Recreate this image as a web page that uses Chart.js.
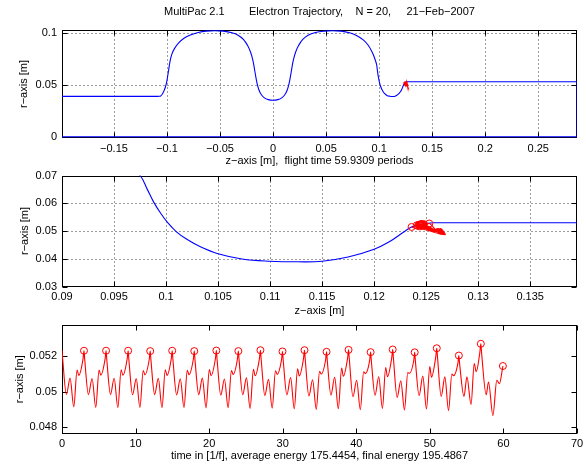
<!DOCTYPE html>
<html><head><meta charset="utf-8">
<script src="https://cdn.jsdelivr.net/npm/chart.js@4.4.1/dist/chart.umd.min.js"></script>
<style>
html,body{margin:0;padding:0;background:#fff;}
#wrap{position:relative;width:586px;height:468px;overflow:hidden;background:#fff;}
canvas{position:absolute;left:0;}
</style></head><body>
<div id="wrap">
<canvas id="c1" width="586" height="170" style="top:0px"></canvas>
<canvas id="c2" width="586" height="150" style="top:170px"></canvas>
<canvas id="c3" width="586" height="148" style="top:320px"></canvas>
</div>
<script>
// ---------- cavity geometry (z, r) ----------
const cavityZ = [-0.1077,-0.1060,-0.1045,-0.1030,-0.1015,-0.1003,-0.0993,-0.0983,-0.0971,-0.0955,-0.0930,-0.0890,-0.0840,-0.0780,-0.0706,-0.0630,-0.0550,-0.0470,-0.0388,-0.0330,-0.0280,-0.0240,-0.0212,-0.0192,-0.0178,-0.0165,-0.0152,-0.0136,-0.0115,-0.0085,-0.0045,0.0000,0.0045,0.0085,0.0115,0.0136,0.0152,0.0165,0.0178,0.0192,0.0212,0.0240,0.0280,0.0330,0.0400,0.0480,0.0560,0.0640,0.0720,0.0790,0.0850,0.0895,0.0930,0.0955,0.0975,0.0982,0.0988,0.0995,0.1002,0.1010,0.1020,0.1033,0.1050,0.1073,0.1100,0.1127,0.1150,0.1175,0.1200,0.1215,0.1226,0.1236,0.1244,0.1250,0.1256];
const cavityR = [0.0390,0.0394,0.0410,0.0440,0.0480,0.0530,0.0590,0.0655,0.0730,0.0795,0.0850,0.0905,0.0950,0.0982,0.1006,0.1019,0.1023,0.1019,0.1004,0.0980,0.0940,0.0880,0.0815,0.0745,0.0670,0.0590,0.0520,0.0460,0.0412,0.0378,0.0358,0.0352,0.0358,0.0378,0.0412,0.0460,0.0520,0.0590,0.0670,0.0745,0.0815,0.0880,0.0940,0.0980,0.1006,0.1019,0.1023,0.1019,0.1003,0.0975,0.0935,0.0885,0.0825,0.0765,0.0700,0.0650,0.0605,0.0563,0.0528,0.0497,0.0470,0.0443,0.0418,0.0399,0.0391,0.0389,0.0391,0.0406,0.0434,0.0462,0.0490,0.0514,0.0523,0.0527,0.0530];
const outlineZ = [0.1256,0.2865,0.2865,-0.199,null,-0.199,-0.1077];
const outlineR = [0.0530,0.0530,0.0000,0.0000,null,0.0390,0.0390];

// ---------- electron trajectory ----------
const timeT = [
 0,0.1,0.6,1.1,1.6,2.05,2.28,2.86,2.99,
 3.09,3.59,4.09,4.59,5.04,5.27,5.86,5.99,
 6.09,6.59,7.09,7.59,8.04,8.27,8.86,8.99,
 9.09,9.59,10.09,10.59,11.04,11.27,11.86,11.99,
 12.09,12.59,13.09,13.59,14.04,14.27,14.85,14.98,
 15.08,15.58,16.08,16.58,17.03,17.26,17.85,17.98,
 18.08,18.58,19.08,19.58,20.03,20.26,20.85,20.98,
 21.08,21.58,22.08,22.58,23.03,23.26,23.84,23.97,
 24.07,24.57,25.07,25.57,26.02,26.25,26.84,26.97,
 27.07,27.57,28.07,28.57,29.02,29.25,29.84,29.97,
 30.07,30.57,31.07,31.57,32.02,32.25,32.83,32.96,
 33.06,33.56,34.06,34.56,35.01,35.24,35.83,35.96,
 36.06,36.56,37.06,37.56,38.01,38.24,38.82,38.95,
 39.05,39.55,40.05,40.55,41.00,41.23,41.82,41.95,
 42.05,42.55,43.05,43.55,44.00,44.23,44.82,44.95,
 45.05,45.55,46.05,46.55,47.00,47.23,47.81,47.94,
 48.04,48.54,49.04,49.54,49.99,50.22,50.81,50.94,
 51.04,51.54,52.04,52.54,52.99,53.22,53.81,53.94,
 54.04,54.64,55.04,55.60,56.03,56.30,56.80,56.93,
 57.03,57.66,57.97,58.57,59.10,59.46,59.83,59.93];
const radiusR = [
 0.05233,0.0518,0.04985,0.05077,0.04915,0.05123,0.05092,0.05185,0.05231,
 0.0518,0.04984,0.05075,0.04912,0.05122,0.05094,0.05185,0.05231,
 0.0518,0.04985,0.05076,0.04911,0.05124,0.05093,0.05185,0.05231,
 0.0518,0.04983,0.05074,0.04912,0.0512,0.05095,0.05183,0.05229,
 0.05178,0.04984,0.05076,0.0491,0.05124,0.05092,0.05185,0.05231,
 0.0518,0.04982,0.05073,0.04911,0.05121,0.05096,0.05183,0.05229,
 0.05178,0.04984,0.05077,0.04909,0.05125,0.05091,0.05186,0.05232,
 0.05181,0.04981,0.05072,0.0491,0.0512,0.05097,0.05183,0.05229,
 0.05178,0.04983,0.05078,0.04906,0.05127,0.0509,0.05188,0.05234,
 0.05183,0.04979,0.0507,0.04908,0.05118,0.05098,0.05181,0.05227,
 0.05176,0.04982,0.0508,0.04904,0.0513,0.05089,0.05188,0.05234,
 0.05183,0.04976,0.05068,0.04901,0.05115,0.051,0.05179,0.05225,
 0.05174,0.04981,0.05082,0.04905,0.05133,0.05087,0.0519,0.05236,
 0.05185,0.04972,0.05065,0.04899,0.05112,0.05102,0.05177,0.05223,
 0.05172,0.0498,0.05085,0.04906,0.05137,0.05085,0.05192,0.05238,
 0.05187,0.04968,0.05062,0.04897,0.05108,0.05104,0.05176,0.05222,
 0.0517,0.04979,0.05088,0.04903,0.05142,0.05082,0.05199,0.05245,
 0.05194,0.04974,0.05084,0.04894,0.051,0.0509,0.0516,0.05204,
 0.0516,0.04974,0.05084,0.04928,0.05159,0.05113,0.05224,0.0527,
 0.0522,0.04983,0.05055,0.04866,0.05064,0.05046,0.0512,0.05145];
const trajZ = [
 0.1245,0.1249,0.1258,0.1262,0.1266,0.1251,0.1247,0.1243,0.1245,
 0.1249,0.1258,0.1261,0.1266,0.1252,0.1247,0.1243,0.1245,
 0.1250,0.1259,0.1262,0.1266,0.1251,0.1248,0.1243,0.1245,
 0.1249,0.1258,0.1262,0.1265,0.1252,0.1247,0.1242,0.1245,
 0.1250,0.1258,0.1261,0.1266,0.1251,0.1246,0.1243,0.1245,
 0.1249,0.1259,0.1263,0.1266,0.1252,0.1248,0.1242,0.1244,
 0.1250,0.1258,0.1262,0.1265,0.1251,0.1247,0.1243,0.1245,
 0.1249,0.1257,0.1261,0.1266,0.1253,0.1248,0.1242,0.1244,
 0.1250,0.1259,0.1263,0.1266,0.1251,0.1246,0.1244,0.1246,
 0.1250,0.1258,0.1261,0.1265,0.1252,0.1248,0.1242,0.1244,
 0.1251,0.1259,0.1263,0.1266,0.1250,0.1246,0.1244,0.1246,
 0.1249,0.1257,0.1261,0.1265,0.1253,0.1249,0.1242,0.1244,
 0.1251,0.1259,0.1263,0.1267,0.1250,0.1246,0.1244,0.1246,
 0.1249,0.1257,0.1261,0.1265,0.1253,0.1249,0.1241,0.1243,
 0.1251,0.1260,0.1264,0.1267,0.1250,0.1246,0.1245,0.1247,
 0.1248,0.1257,0.1260,0.1265,0.1254,0.1249,0.1241,0.1243,
 0.1252,0.1260,0.1264,0.1267,0.1250,0.1245,0.1245,0.1248,
 0.1248,0.1256,0.1261,0.1266,0.1253,0.1249,0.1240,0.1241,
 0.1246,0.1257,0.1262,0.1264,0.1252,0.1248,0.1250,0.1253,
 0.1255,0.1261,0.1264,0.1268,0.1247,0.1243,0.1238,0.1236];

// impacts
const impactT = [2.99,5.99,8.99,11.99,14.98,17.98,20.98,23.97,26.97,29.97,32.96,35.96,38.95,41.95,44.95,47.94,50.94,53.94,56.93,59.93];
const impactR = [0.05231,0.05231,0.05231,0.05229,0.05231,0.05229,0.05232,0.05229,0.05234,0.05227,0.05234,0.05225,0.05236,0.05223,0.05238,0.05222,0.05245,0.05204,0.0527,0.05145];
const impactZ = [0.1245,0.1245,0.1245,0.1245,0.1245,0.1244,0.1245,0.1244,0.1246,0.1244,0.1246,0.1244,0.1246,0.1243,0.1247,0.1243,0.1248,0.1241,0.1253,0.1236];

// ---------- ticks ----------
const xTicks1 = [-0.15,-0.1,-0.05,0,0.05,0.1,0.15,0.2,0.25];
const yTicks1 = [0,0.05,0.1];
const xTicks2 = [0.09,0.095,0.1,0.105,0.11,0.115,0.12,0.125,0.13,0.135];
const yTicks2 = [0.03,0.04,0.05,0.06,0.07];
const xTicks3 = [0,10,20,30,40,50,60,70];
const yTicks3 = [0.048,0.05,0.052];

const BLUE = '#0000ff', RED = '#ff0000';
Chart.defaults.font.family = '"Liberation Sans", Arial, Helvetica, sans-serif';
Chart.defaults.font.size = 11;
Chart.defaults.color = '#000';
Chart.defaults.animation = false;

const fmt = v => String(+Number(v).toFixed(4)).replace('-', '\u2212');
const pts = (xs, ys) => xs.map((x, i) => (x === null ? {x: null, y: null} : {x: x, y: ys[i]}));

const frame = {
  id: 'frame',
  beforeDatasetsDraw(chart, args, opts) {
    const {ctx, chartArea: a, scales: {x, y}} = chart;
    const L = Math.round(a.left) + 0.5, R = Math.round(a.right) - 0.5;
    const T = Math.round(a.top) + 0.5, B = Math.round(a.bottom) - 0.5;
    ctx.save();
    ctx.lineWidth = 1;
    if (opts.grid) {
      ctx.strokeStyle = '#3a3a3a';
      ctx.setLineDash([1, 3]);
      ctx.beginPath();
      x.ticks.forEach(t => { const p = Math.round(x.getPixelForValue(t.value)) + 0.5; if (p > L + 1 && p < R - 1) { ctx.moveTo(p, T + 1); ctx.lineTo(p, B); } });
      y.ticks.forEach(t => { const p = Math.round(y.getPixelForValue(t.value)) + 0.5; if (p > T + 1 && p < B - 1) { ctx.moveTo(L + 1, p); ctx.lineTo(R, p); } });
      ctx.stroke();
    }
    ctx.setLineDash([]);
    ctx.strokeStyle = '#000';
    const tl = 5;
    ctx.beginPath();
    x.ticks.forEach(t => { const p = Math.round(x.getPixelForValue(t.value)) + 0.5; ctx.moveTo(p, B); ctx.lineTo(p, B - tl); ctx.moveTo(p, T); ctx.lineTo(p, T + tl); });
    y.ticks.forEach(t => { const p = Math.round(y.getPixelForValue(t.value)) + 0.5; ctx.moveTo(L, p); ctx.lineTo(L + tl, p); ctx.moveTo(R, p); ctx.lineTo(R - tl, p); });
    ctx.stroke();
    ctx.strokeRect(L, T, R - L, B - T);
    ctx.restore();
  }
};

function scales(o) {
  return {
    x: {
      type: 'linear', min: o.xmin, max: o.xmax,
      grid: {display: false, drawTicks: false, tickLength: 0}, border: {display: false},
      ticks: {autoSkip: false, maxRotation: 0, padding: 4, callback: v => fmt(v)},
      title: {display: true, text: o.xlabel, padding: {top: 0, bottom: o.xtb}},
      afterBuildTicks: s => { s.ticks = o.xticks.map(v => ({value: v})); },
      afterFit: s => { s.height = o.xh; s.paddingLeft = 0; s.paddingRight = 0; }
    },
    y: {
      type: 'linear', min: o.ymin, max: o.ymax,
      grid: {display: false, drawTicks: false, tickLength: 0}, border: {display: false},
      ticks: {autoSkip: false, padding: 5, callback: v => fmt(v)},
      title: {display: true, text: 'r\u2212axis [m]', padding: {top: o.ytp, bottom: 0}},
      afterBuildTicks: s => { s.ticks = o.yticks.map(v => ({value: v})); },
      afterFit: s => { s.width = 62; s.paddingTop = 0; s.paddingBottom = 0; }
    }
  };
}

const common = (layoutTop, extraPlugins, grid) => ({
  responsive: false, devicePixelRatio: 1, animation: false, events: [],
  layout: {padding: {left: 0, right: 9, top: layoutTop, bottom: 0}},
  plugins: Object.assign({legend: {display: false}, tooltip: {enabled: false}, frame: {grid: grid}}, extraPlugins)
});

const lineDs = (data, color, extra) => Object.assign({
  data: data, showLine: true, borderColor: color, borderWidth: 1.1, pointRadius: 0, fill: false
}, extra || {});
const circleDs = (data) => ({
  data: data, showLine: false, pointRadius: 3.5, pointStyle: 'circle',
  borderColor: RED, backgroundColor: 'rgba(0,0,0,0)', borderWidth: 1
});

// Panel 1
new Chart(document.getElementById('c1'), {
  type: 'scatter',
  data: {datasets: [
    lineDs(pts(trajZ, radiusR), RED, {borderWidth: 1.3}),
    lineDs(pts(cavityZ, cavityR), BLUE, {tension: 0.4}),
    lineDs(pts(outlineZ, outlineR), BLUE, {tension: 0})
  ]},
  options: Object.assign(common(0, {
    title: {display: true, text: 'MultiPac 2.1        Electron Trajectory,    N = 20,     21\u2212Feb\u22122007',
      fullSize: false, padding: {top: 5.4, bottom: 11.4}, font: {size: 11, weight: 'normal'}, color: '#000'}
  }, true), {
    scales: scales({xmin: -0.199, xmax: 0.2865, ymin: -0.0012, ymax: 0.103, xticks: xTicks1, yticks: yTicks1,
      xlabel: 'z\u2212axis [m],  flight time 59.9309 periods', xtb: 2.4, xh: 32, ytp: 17.4})
  }),
  plugins: [frame]
});

// Panel 2
new Chart(document.getElementById('c2'), {
  type: 'scatter',
  data: {datasets: [
    circleDs(pts(impactZ, impactR)),
    lineDs(pts(trajZ, radiusR), RED, {tension: 0.4}),
    lineDs(pts(cavityZ, cavityR), BLUE, {tension: 0.4}),
    lineDs(pts(outlineZ, outlineR), BLUE, {tension: 0})
  ]},
  options: Object.assign(common(5.5, {}, true), {
    scales: scales({xmin: 0.09, xmax: 0.1395, ymin: 0.03, ymax: 0.07, xticks: xTicks2, yticks: yTicks2,
      xlabel: 'z\u2212axis [m]', xtb: 2.4, xh: 33.5, ytp: 18.4})
  }),
  plugins: [frame]
});

// Panel 3
new Chart(document.getElementById('c3'), {
  type: 'scatter',
  data: {datasets: [
    circleDs(pts(impactT, impactR)),
    lineDs(pts(timeT, radiusR), RED, {cubicInterpolationMode: 'monotone'})
  ]},
  options: Object.assign(common(2.5, {}, false), {
    scales: scales({xmin: 0, xmax: 70, ymin: 0.04765, ymax: 0.05376, xticks: xTicks3, yticks: yTicks3,
      xlabel: 'time in [1/f], average energy 175.4454, final energy 195.4867', xtb: 5.4, xh: 34.5, ytp: 13.4})
  }),
  plugins: [frame]
});
</script>
</body></html>
